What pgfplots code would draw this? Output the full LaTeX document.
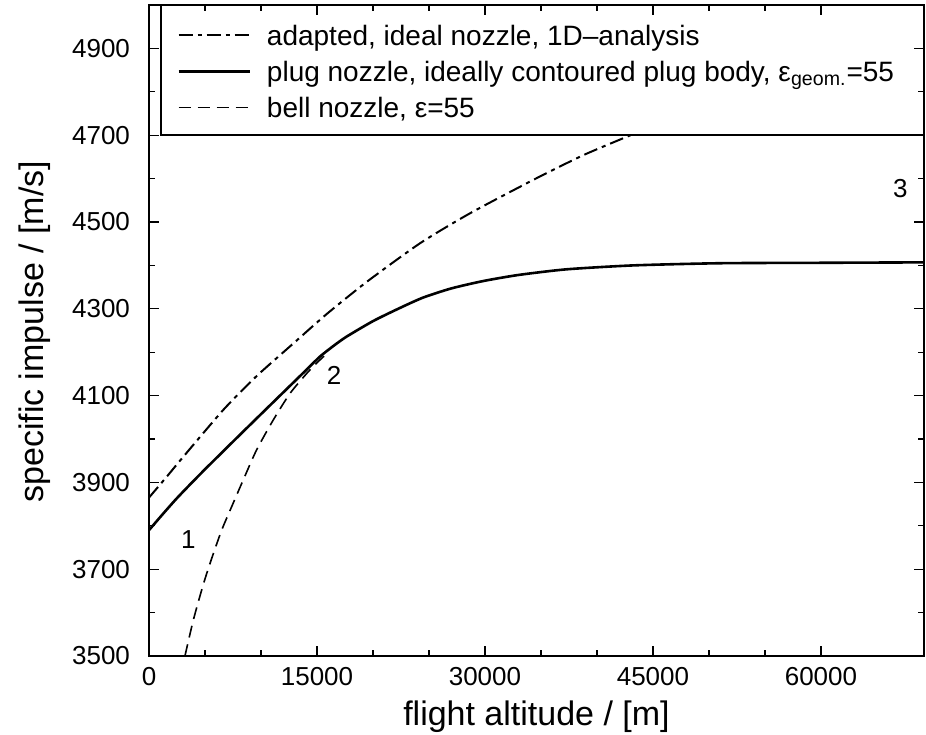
\documentclass[border=0pt]{standalone}
\usepackage{fontspec}
\setmainfont{Liberation Sans}
\usepackage{pgfplots}
\pgfplotsset{compat=1.18}
\begin{document}
\begin{tikzpicture}
\useasboundingbox (-74.5pt,-39pt) rectangle (388.5pt,328pt);
\begin{axis}[
  at={(0,0)}, anchor=south west,
  scale only axis, width=387.5pt, height=325.5pt,
  xmin=0, xmax=69200, ymin=3500, ymax=5000,
  xtick={0,15000,30000,45000,60000},
  minor x tick num=2,
  ytick={3500,3700,...,4900},
  minor y tick num=1,
  scaled x ticks=false, scaled y ticks=false,
  /pgf/number format/set thousands separator={},
  /pgf/number format/assume math mode=true,
  tick label style={font=\fontsize{13}{15}\selectfont},
  yticklabel style={xshift=-6pt},
  xticklabel style={yshift=-2pt},
  major tick length=5pt, minor tick length=3pt,
  tick style={black, line width=0.6pt},
  axis line style={line width=1pt},
  xlabel={flight altitude / [m]},
  ylabel={specific impulse / [m/s]},
  label style={font=\fontsize{17}{20}\selectfont},
  xlabel style={at={(rel axis cs:0.5,-0.106)}, anchor=base},
  ylabel style={at={(rel axis cs:-0.1471,0.498)}, anchor=center},
  legend cell align=left,
  legend style={at={(rel axis cs:0.0361,0.9754)}, anchor=north west,
    draw=none, fill=none, inner sep=0pt,
    font=\fontsize{14}{17}\selectfont,
    column sep=8pt, row sep=4pt,
    nodes={inner sep=0pt, text height=12pt, text depth=2pt}},
  legend image code/.code={\draw[#1] (0pt,0pt) -- (35.5pt,0pt);},
]
% adapted, ideal nozzle
\addplot[black, line width=1pt, smooth, tension=0.4,
  dash pattern=on 7pt off 2.5pt on 2pt off 2.5pt] coordinates {
  (0,3865) (1580,3913) (3060,3959) (6630,4067) (9610,4145)
  (12880,4220) (15870,4288) (19440,4362) (24200,4451) (28660,4520)
  (34310,4597) (38780,4654) (43000,4700)
};
\addlegendentry{adapted, ideal nozzle, 1D–analysis}
% plug nozzle
\addplot[black, line width=1.3pt, smooth, tension=0.4] coordinates {
  (0,3790) (1200,3826) (2400,3861) (3660,3895) (5150,3934) (8130,4010)
  (11100,4085) (14080,4160) (15270,4190) (16500,4215) (17650,4236)
  (20030,4272) (22410,4302) (24490,4326) (27000,4347) (29850,4364)
  (33000,4378) (37300,4391) (43240,4400) (50980,4405) (60000,4406)
  (69200,4407)
};
\addlegendentry{plug nozzle, ideally contoured plug body, ε\textsubscript{geom.}=55}
% bell nozzle
\addplot[black, line width=0.8pt, smooth, tension=0.4,
  dash pattern=on 6pt off 3.5pt] coordinates {
  (3210,3500) (3960,3583) (4850,3665) (5600,3725) (6490,3790)
  (7380,3844) (8420,3906) (9610,3975) (11100,4044) (12590,4105)
  (14080,4151) (14970,4175) (15800,4195)
};
\addlegendentry{bell nozzle, ε=55}
\draw[line width=1pt] (rel axis cs:0.0155,0.8) rectangle (rel axis cs:1,1);
\node[font=\fontsize{13}{15}\selectfont] at (axis cs:3510,3769) {1};
\node[font=\fontsize{13}{15}\selectfont] at (axis cs:16520,4147) {2};
\node[font=\fontsize{13}{15}\selectfont] at (axis cs:67080,4577) {3};
\end{axis}
\end{tikzpicture}
\end{document}
